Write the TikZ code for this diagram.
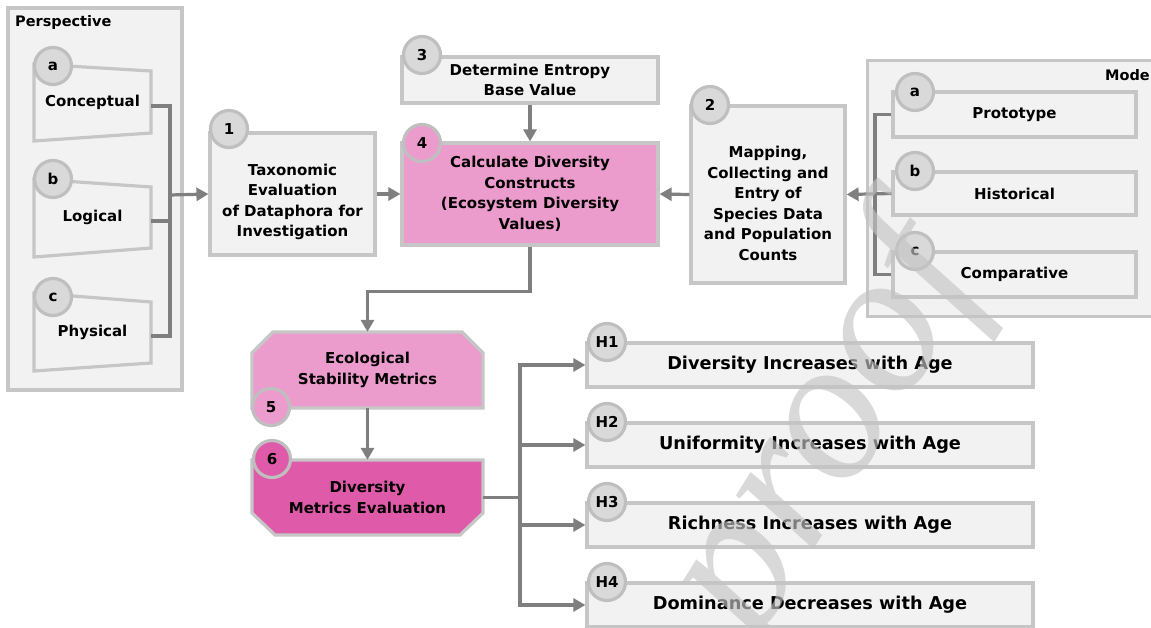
\documentclass[tikz,border=0pt]{standalone}
\usepackage{fontspec}
\setmainfont{DejaVu Sans}
\newfontfamily\wmfont{Liberation Serif}
\usetikzlibrary{arrows.meta}
\definecolor{panel}{HTML}{F2F2F2}
\definecolor{bord}{HTML}{C6C6C6}
\definecolor{circf}{HTML}{D9D9D9}
\definecolor{circb}{HTML}{BFBFBF}
\definecolor{arr}{HTML}{7F7F7F}
\definecolor{pinkA}{HTML}{EC9BCD}
\definecolor{pinkB}{HTML}{E05AAA}
\definecolor{wmgray}{HTML}{C4C4C4}
\tikzset{
  box/.style={draw=bord, line width=3.2pt, fill=panel, inner sep=0pt, align=center,
    font=\bfseries\fontsize{15}{20.5}\selectfont},
  txt/.style={inner sep=0pt, align=center, font=\bfseries\fontsize{15}{20.5}\selectfont},
  htxt/.style={box, minimum width=446pt, minimum height=44pt, font=\bfseries\fontsize{17.7}{20}\selectfont},
  badge/.style={circle, draw=circb, fill=circf, line width=3.2pt, minimum size=37pt, inner sep=0pt,
    font=\bfseries\fontsize{15}{18}\selectfont},
  shapeline/.style={draw=bord, line width=3.2pt, line join=miter},
  conn/.style={draw=arr, line width=3.2pt},
  arrow/.style={conn, -{Triangle[length=12pt,width=13pt]}},
  wm/.style={font=\wmfont\itshape\fontsize{205}{205}\selectfont, text=wmgray, text opacity=0.64, inner sep=0pt}
}
\begin{document}
\begin{tikzpicture}[x=1pt,y=-1pt]
\clip (0,0) rectangle (1151,628);
\fill[white] (0,0) rectangle (1151,628);

% ---------- Perspective panel ----------
\node[box, minimum width=174pt, minimum height=382pt] (persp) at (95,199) {};
\node[txt, anchor=west, font=\bfseries\fontsize{14.5}{16}\selectfont] (perspT) at (15,23) {Perspective};
\filldraw[shapeline, fill=panel] (34,64) -- (151,71) -- (151,133) -- (34,141) -- cycle;
\filldraw[shapeline, fill=panel] (34,179) -- (151,187) -- (151,248) -- (34,257) -- cycle;
\filldraw[shapeline, fill=panel] (34,293) -- (151,302) -- (151,363) -- (34,371) -- cycle;
\node[txt, minimum width=117pt] (pa) at (92.5,102) {Conceptual};
\node[txt, minimum width=117pt] (pb) at (92.5,217) {Logical};
\node[txt, minimum width=117pt] (pc) at (92.5,332) {Physical};

% ---------- Mode panel ----------
\node[box, minimum width=300pt, minimum height=256pt, anchor=north west] (mode) at (866,59) {};
\node[txt, anchor=east, font=\bfseries\fontsize{14.5}{16}\selectfont] (modeT) at (1150,75) {Mode};
\node[box, minimum width=243pt, minimum height=45pt] (ma) at (1014.5,114.5) {Prototype};
\node[box, minimum width=243pt, minimum height=43pt] (mb) at (1014.5,193.5) {Historical};
\node[box, minimum width=243pt, minimum height=45pt] (mc) at (1014.5,274.5) {Comparative};

% ---------- Main process boxes ----------
\node[box, minimum width=165pt, minimum height=122pt] (b1) at (292.5,194) {};
\node[txt] (b1t) at (292.5,202) {Taxonomic\\Evaluation\\of Dataphora for\\Investigation};
\node[box, minimum width=154pt, minimum height=177pt] (b2) at (768,194.5) {};
\node[txt] (b2t) at (768,203.5) {Mapping,\\Collecting and\\Entry of\\Species Data\\and Population\\Counts};
\node[box, minimum width=256pt, minimum height=46pt] (b3) at (530,80) {Determine Entropy\\Base Value};
\node[box, fill=pinkA, minimum width=256pt, minimum height=102pt] (b4) at (530,194)
  {Calculate Diversity\\Constructs\\(Ecosystem Diversity\\Values)};

% box 5 and box 6 (chamfered shapes)
\filldraw[shapeline, fill=pinkA] (252,353) -- (273,332) -- (462,332) -- (483,353) -- (483,408) -- (252,408) -- cycle;
\filldraw[shapeline, fill=pinkB] (252,460) -- (483,460) -- (483,513) -- (460,535) -- (275,535) -- (252,513) -- cycle;
\node[txt, minimum width=231pt, minimum height=76pt] (b5) at (367.5,370) {Ecological\\Stability Metrics};
\node[txt, minimum width=231pt, minimum height=75pt] (b6) at (367.5,497.5) {Diversity\\Metrics Evaluation};

% hypothesis boxes
\node[htxt] (h1) at (810,365) {Diversity Increases with Age};
\node[htxt] (h2) at (810,445) {Uniformity Increases with Age};
\node[htxt] (h3) at (810,525) {Richness Increases with Age};
\node[htxt] (h4) at (810,605) {Dominance Decreases with Age};

% ---------- Connectors ----------
\coordinate (jp) at (170,195);
\draw[conn] ([yshift=-4pt]pa.east) -| (jp);
\draw[conn] ([yshift=-4pt]pc.east) -| (jp);
\draw[conn] ([yshift=-4pt]pb.east) -| (jp);
\draw[arrow] (jp) -- (b1.west);
\draw[arrow] (b1.east) -- (b4.west);
\draw[arrow] (b3.south) -- (b4.north);
\draw[arrow] (b2.west) -- (b4.east);
\coordinate (mj) at (875,193.5);
\draw[conn] (ma.west) -| (mj);
\draw[conn] (mc.west) -| (mj);
\draw[arrow] (mb.west) -- (b2.east);
\draw[arrow] (b4.south) -- ++(0,45) -| (b5.north);
\draw[arrow] (b5.south) -- (b6.north);
\coordinate (hj) at (520,497.5);
\draw[conn] (b6.east) -- (hj);
\draw[arrow] (hj) |- (h1.west);
\draw[arrow] (hj) |- (h2.west);
\draw[arrow] (hj) |- (h3.west);
\draw[arrow] (hj) |- (h4.west);

% ---------- Badges ----------
\node[badge] (ca) at (53,66) {a};
\node[badge] (cb) at (53,179) {b};
\node[badge] (cc) at (53,297) {c};
\node[badge] (c1) at (229,129) {1};
\node[badge] (c2) at (710,105) {2};
\node[badge] (c3) at (422,55) {3};
\node[badge, fill=pinkA] (c4) at (422,143) {4};
\node[badge, fill=pinkA] (c5) at (271,407) {5};
\node[badge, fill=pinkB] (c6) at (272,459) {6};
\node[badge] (cma) at (915,92) {a};
\node[badge] (cmb) at (915,171) {b};
\node[badge] (cmc) at (915,251) {c};
\node[badge] (ch1) at (607,342) {H1};
\node[badge] (ch2) at (607,422) {H2};
\node[badge] (ch3) at (607,502) {H3};
\node[badge] (ch4) at (607,582) {H4};

% ---------- Watermark ----------
\node[wm, rotate=58] (wmark) at (828,432) {proof};
\end{tikzpicture}
\end{document}
